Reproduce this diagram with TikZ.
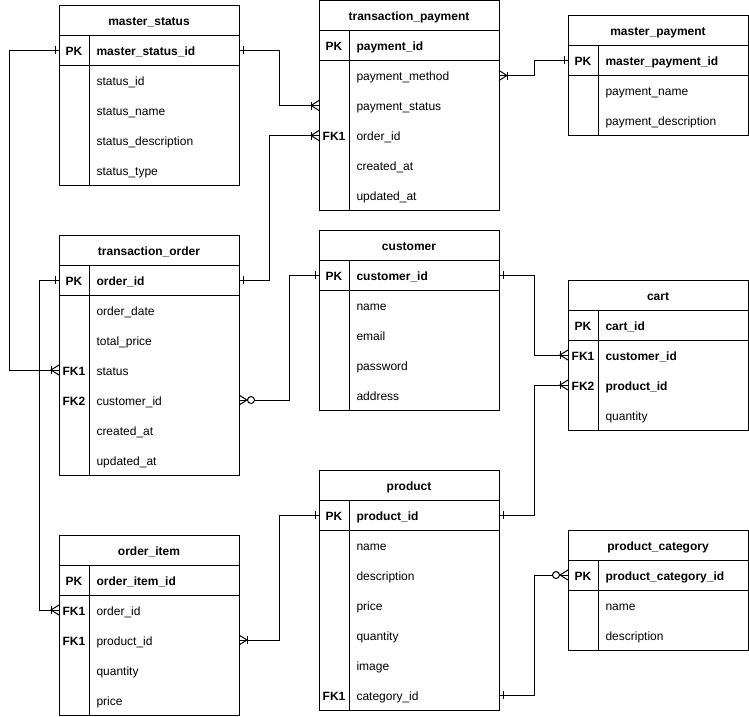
\documentclass[tikz,border=0pt]{standalone}
\usepackage{fontspec}
\setmainfont{Liberation Sans}
\begin{document}
\begin{tikzpicture}[x=1pt,y=-1pt,
  line width=1pt,
  ertitlebox/.style={minimum width=180pt,minimum height=30pt,anchor=north west,inner sep=0pt,outer sep=0pt},
  errowbox/.style={minimum width=180pt,minimum height=30pt,anchor=north west,inner sep=0pt,outer sep=0pt},
  titletext/.style={anchor=base,inner sep=0pt,font=\fontsize{12}{14}\selectfont\bfseries},
  keytext/.style={anchor=base,inner sep=0pt,font=\fontsize{12}{14}\selectfont\bfseries},
  fieldtext/.style={anchor=base west,inner sep=0pt,font=\fontsize{12}{14}\selectfont},
  fieldbold/.style={anchor=base west,inner sep=0pt,font=\fontsize{12}{14}\selectfont\bfseries},
  conn/.style={draw=black,line width=1pt},
  erone/.pic={\draw[conn] (4,-4)--(4,4);},
  ercrowbar/.pic={\draw[conn] (0,-5)--(8,0)--(0,5); \draw[conn] (8,-4)--(8,4);},
  ercrowzero/.pic={\draw[conn] (0,-5)--(8,0)--(0,5); \draw[conn,fill=white] (12,0) circle (3.5);}
]
\useasboundingbox (0,0) rectangle (749,716);

\newcommand\ertitle[4]{%
  \node[ertitlebox] (#1) at (#2,#3) {};
  \node[titletext] (#1-t) at ([yshift=-5pt]#1.center) {#4};}
\newcommand\errow[6]{%
  \node[errowbox] (#1) at (#2,#3) {};
  \node[keytext] (#1-k) at ([xshift=15pt,yshift=-5pt]#1.west) {#4};
  \node[#6] (#1-f) at ([xshift=37pt,yshift=-5pt]#1.west) {#5};}
\newcommand\erframe[3]{%
  \draw (#1.north west) rectangle (#3.south east);
  \draw (#1.south west) -- (#1.south east);
  \draw (#2.south west) -- (#2.south east);
  \draw ([xshift=30pt]#1.south west) -- ([xshift=30pt]#3.south west);}

% master_status
\ertitle{ms}{59}{5}{master\_status}
\errow{ms1}{59}{35}{PK}{master\_status\_id}{fieldbold}
\errow{ms2}{59}{65}{}{status\_id}{fieldtext}
\errow{ms3}{59}{95}{}{status\_name}{fieldtext}
\errow{ms4}{59}{125}{}{status\_description}{fieldtext}
\errow{ms5}{59}{155}{}{status\_type}{fieldtext}
\erframe{ms}{ms1}{ms5}

% transaction_payment
\ertitle{tp}{319}{0.5}{transaction\_payment}
\errow{tp1}{319}{30.5}{PK}{payment\_id}{fieldbold}
\errow{tp2}{319}{60.5}{}{payment\_method}{fieldtext}
\errow{tp3}{319}{90.5}{}{payment\_status}{fieldtext}
\errow{tp4}{319}{120.5}{FK1}{order\_id}{fieldtext}
\errow{tp5}{319}{150.5}{}{created\_at}{fieldtext}
\errow{tp6}{319}{180.5}{}{updated\_at}{fieldtext}
\erframe{tp}{tp1}{tp6}

% master_payment
\ertitle{mp}{568}{15}{master\_payment}
\errow{mp1}{568}{45}{PK}{master\_payment\_id}{fieldbold}
\errow{mp2}{568}{75}{}{payment\_name}{fieldtext}
\errow{mp3}{568}{105}{}{payment\_description}{fieldtext}
\erframe{mp}{mp1}{mp3}

% transaction_order
\ertitle{to}{59}{235}{transaction\_order}
\errow{to1}{59}{265}{PK}{order\_id}{fieldbold}
\errow{to2}{59}{295}{}{order\_date}{fieldtext}
\errow{to3}{59}{325}{}{total\_price}{fieldtext}
\errow{to4}{59}{355}{FK1}{status}{fieldtext}
\errow{to5}{59}{385}{FK2}{customer\_id}{fieldtext}
\errow{to6}{59}{415}{}{created\_at}{fieldtext}
\errow{to7}{59}{445}{}{updated\_at}{fieldtext}
\erframe{to}{to1}{to7}

% customer
\ertitle{cu}{319}{230}{customer}
\errow{cu1}{319}{260}{PK}{customer\_id}{fieldbold}
\errow{cu2}{319}{290}{}{name}{fieldtext}
\errow{cu3}{319}{320}{}{email}{fieldtext}
\errow{cu4}{319}{350}{}{password}{fieldtext}
\errow{cu5}{319}{380}{}{address}{fieldtext}
\erframe{cu}{cu1}{cu5}

% cart
\ertitle{ca}{568}{280}{cart}
\errow{ca1}{568}{310}{PK}{cart\_id}{fieldbold}
\errow{ca2}{568}{340}{FK1}{customer\_id}{fieldbold}
\errow{ca3}{568}{370}{FK2}{product\_id}{fieldbold}
\errow{ca4}{568}{400}{}{quantity}{fieldtext}
\erframe{ca}{ca1}{ca4}

% product
\ertitle{pr}{319}{470}{product}
\errow{pr1}{319}{500}{PK}{product\_id}{fieldbold}
\errow{pr2}{319}{530}{}{name}{fieldtext}
\errow{pr3}{319}{560}{}{description}{fieldtext}
\errow{pr4}{319}{590}{}{price}{fieldtext}
\errow{pr5}{319}{620}{}{quantity}{fieldtext}
\errow{pr6}{319}{650}{}{image}{fieldtext}
\errow{pr7}{319}{680}{FK1}{category\_id}{fieldtext}
\erframe{pr}{pr1}{pr7}

% order_item
\ertitle{oi}{59}{535}{order\_item}
\errow{oi1}{59}{565}{PK}{order\_item\_id}{fieldbold}
\errow{oi2}{59}{595}{FK1}{order\_id}{fieldtext}
\errow{oi3}{59}{625}{FK1}{product\_id}{fieldtext}
\errow{oi4}{59}{655}{}{quantity}{fieldtext}
\errow{oi5}{59}{685}{}{price}{fieldtext}
\erframe{oi}{oi1}{oi5}

% product_category
\ertitle{pc}{568}{530}{product\_category}
\errow{pc1}{568}{560}{PK}{product\_category\_id}{fieldbold}
\errow{pc2}{568}{590}{}{name}{fieldtext}
\errow{pc3}{568}{620}{}{description}{fieldtext}
\erframe{pc}{pc1}{pc3}

% connectors
\draw[conn] (ms1.east) -- ++(40,0) |- (tp3.west);
\draw[conn] (to1.east) -- ++(30,0) |- (tp4.west);
\draw[conn] (tp2.east) -- ++(35,0) |- (mp1.west);
\draw[conn] (ms1.west) -- ++(-50,0) |- (to4.west);
\draw[conn] (cu1.west) -- ++(-30,0) |- (to5.east);
\draw[conn] (to1.west) -- ++(-20,0) |- (oi2.west);
\draw[conn] (cu1.east) -- ++(35,0) |- (ca2.west);
\draw[conn] (pr1.east) -- ++(35,0) |- (ca3.west);
\draw[conn] (pr1.west) -- ++(-40,0) |- (oi3.east);
\draw[conn] (pr7.east) -- ++(35,0) |- (pc1.west);

% ends
\pic at (ms1.east) {erone};
\pic[xscale=-1] at (tp3.west) {ercrowbar};
\pic at (to1.east) {erone};
\pic[xscale=-1] at (tp4.west) {ercrowbar};
\pic at (tp2.east) {ercrowbar};
\pic[xscale=-1] at (mp1.west) {erone};
\pic[xscale=-1] at (ms1.west) {erone};
\pic[xscale=-1] at (to4.west) {ercrowbar};
\pic[xscale=-1] at (cu1.west) {erone};
\pic at (to5.east) {ercrowzero};
\pic[xscale=-1] at (to1.west) {erone};
\pic[xscale=-1] at (oi2.west) {ercrowbar};
\pic at (cu1.east) {erone};
\pic[xscale=-1] at (ca2.west) {ercrowbar};
\pic at (pr1.east) {erone};
\pic[xscale=-1] at (ca3.west) {ercrowbar};
\pic[xscale=-1] at (pr1.west) {erone};
\pic at (oi3.east) {ercrowbar};
\pic at (pr7.east) {erone};
\pic[xscale=-1] at (pc1.west) {ercrowzero};
\end{tikzpicture}
\end{document}
